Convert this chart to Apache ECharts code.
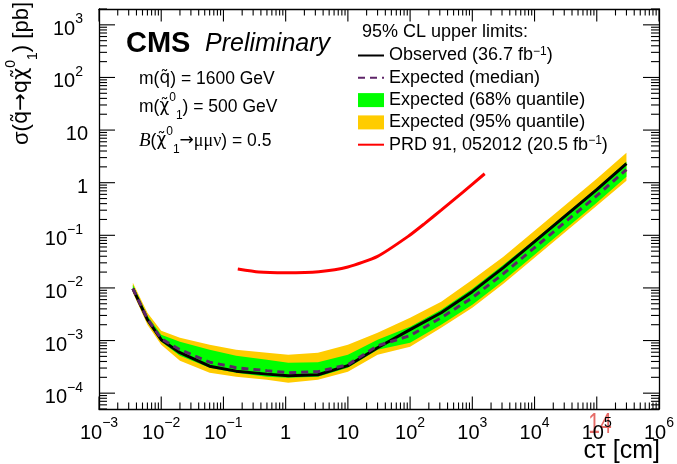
<!DOCTYPE html>
<html><head><meta charset="utf-8">
<script src="https://cdn.jsdelivr.net/npm/echarts@6/dist/echarts.min.js"></script>
<style>html,body{margin:0;padding:0;background:#fff}#c{width:677px;height:464px}</style>
</head><body><div id="c"></div>
<script>
// ---------------- data ----------------
const ctau        = [0.0035, 0.006, 0.01, 0.02, 0.06, 0.16, 0.5, 1.1, 3.3, 10, 30, 100, 316, 1000, 3160, 1e4, 3.16e4, 1e5, 3e5];
const observed    = [0.00968, 0.00249, 0.00104, 0.000587, 0.000326, 0.000262, 0.00023, 0.000215, 0.000224, 0.000333, 0.000731, 0.00161, 0.00338, 0.00849, 0.0243, 0.0757, 0.236, 0.736, 2.30];
const expMedian   = [0.00968, 0.00260, 0.00108, 0.00067, 0.000388, 0.000305, 0.000267, 0.000245, 0.000256, 0.000348, 0.000798, 0.00124, 0.00272, 0.00653, 0.01866, 0.0582, 0.1815, 0.566, 1.77];
const exp68Lo     = [0.00887, 0.00228, 0.00095, 0.000515, 0.000305, 0.000245, 0.000206, 0.000197, 0.000206, 0.000305, 0.00067, 0.00091, 0.00200, 0.00480, 0.01374, 0.0429, 0.1336, 0.417, 1.30];
const exp68Hi     = [0.01153, 0.00296, 0.00129, 0.00095, 0.00067, 0.000515, 0.000433, 0.000379, 0.000388, 0.000538, 0.00104, 0.00183, 0.00386, 0.00968, 0.0277, 0.0826, 0.258, 0.80, 2.51];
const exp95Lo     = [0.00813, 0.00200, 0.000834, 0.000414, 0.000245, 0.000206, 0.00018, 0.000158, 0.00018, 0.000256, 0.000538, 0.000764, 0.00175, 0.00421, 0.01205, 0.0376, 0.1172, 0.366, 1.09];
const exp95Hi     = [0.01259, 0.00338, 0.00154, 0.00113, 0.000834, 0.00067, 0.000587, 0.000538, 0.000587, 0.000834, 0.00141, 0.00272, 0.00548, 0.01435, 0.0393, 0.1225, 0.382, 1.19, 3.72];
const prdCtau     = [0.17, 0.37, 1.0, 3.4, 10, 30, 93, 173, 316, 708, 1580];
const prdLimit    = [0.0229, 0.0201, 0.0195, 0.0204, 0.025, 0.0398, 0.0955, 0.169, 0.301, 0.663, 1.48];

const xMajorTicks = [1e-3, 1e-2, 1e-1, 1, 10, 1e2, 1e3, 1e4, 1e5, 1e6];
const yMajorTicks = [1e-4, 1e-3, 1e-2, 1e-1, 1, 10, 1e2, 1e3];
const yPowerLabels = [1e-4, 1e-3, 1e-2, 1e-1, 1e2, 1e3];
const yPlainLabels = [1, 10];
const X_MIN = 1e-3, X_MAX = 1e6, Y_MIN = 5e-5, Y_MAX = 2e3;

const seriesNames = {
  obs: 'Observed (36.7 fb-1)',
  med: 'Expected (median)',
  b68: 'Expected (68% quantile)',
  b95: 'Expected (95% quantile)',
  prd: 'PRD 91, 052012 (20.5 fb-1)'
};

// ---------------- helpers ----------------
const FONT = 'Liberation Sans, Arial, Helvetica, DejaVu Sans, sans-serif';
const DJ = 'DejaVu Sans, sans-serif';
function pairs(xs, ys) { return xs.map((x, i) => [x, ys[i]]); }
function minorTicks(lo, hi) {
  const out = [];
  for (let e = -6; e <= 6; e++) for (let k = 2; k <= 9; k++) {
    const v = k * Math.pow(10, e);
    if (v >= lo * 0.9999 && v <= hi * 1.0001) out.push(v);
  }
  return out;
}
function powLabel(v) {
  const e = Math.round(Math.log10(v));
  if (e === 0) return '{b|1}';
  if (e === 1) return '{b|10}';
  return '{b|10}{s|' + (e < 0 ? '\u2212' : '') + Math.abs(e) + '}';
}
const labelRich = {
  b: { fontSize: 20, lineHeight: 34, fontFamily: FONT, color: '#000' },
  s: { fontSize: 14, lineHeight: 20, verticalAlign: 'top', fontFamily: FONT, color: '#000' }
};
const AX = { color: '#000', width: 1.3 };

function baseAxis(min, max, extra) {
  return Object.assign({
    type: 'log', logBase: 10, min: min, max: max,
    splitLine: { show: false },
    axisLine: { show: false, onZero: false },
    axisTick: { show: false },
    axisLabel: { show: false }
  }, extra);
}

const xMinor = minorTicks(X_MIN, X_MAX);
const yMinor = minorTicks(Y_MIN, Y_MAX);

const xAxes = [
  baseAxis(X_MIN, X_MAX, {
    position: 'bottom',
    axisLine: { show: true, onZero: false, lineStyle: AX },
    axisLabel: { show: true, customValues: xMajorTicks, formatter: powLabel, margin: 7, rich: labelRich }
  }),
  baseAxis(X_MIN, X_MAX, { position: 'top', axisLine: { show: true, onZero: false, lineStyle: AX } })
];
const yAxes = [
  baseAxis(Y_MIN, Y_MAX, {
    position: 'left',
    axisLine: { show: true, onZero: false, lineStyle: AX },
    axisLabel: { show: true, customValues: yPowerLabels, formatter: powLabel, margin: 16, padding: [9, 0, 0, 0], rich: labelRich }
  }),
  baseAxis(Y_MIN, Y_MAX, { position: 'left',
    axisLabel: { show: true, customValues: yPlainLabels, formatter: powLabel, margin: 11, padding: [9, 0, 0, 0], rich: labelRich } }),
  baseAxis(Y_MIN, Y_MAX, { position: 'right', axisLine: { show: true, onZero: false, lineStyle: AX } })
];

// band polygon through the axes' own scales
function bandSeries(name, lo, hi, color, z) {
  return {
    name: name, type: 'custom', z: z, clip: true,
    itemStyle: { color: color },
    data: ctau.map((x, i) => [x, lo[i], hi[i]]),
    encode: { x: 0, y: [1, 2] },
    renderItem: function (params, api) {
      if (params.dataIndex !== 0) return null;
      const pts = [];
      for (let i = 0; i < ctau.length; i++) pts.push(api.coord([ctau[i], hi[i]]));
      for (let i = ctau.length - 1; i >= 0; i--) pts.push(api.coord([ctau[i], lo[i]]));
      return { type: 'polygon', shape: { points: pts }, style: { fill: color, stroke: null } };
    }
  };
}
// inside ticks on both sides of the frame, placed through the axes' scales
function tickSeries(values, dir, len) {
  return {
    type: 'custom', silent: true, clip: false, z: 10,
    data: values.map(v => dir === 'x' ? [v, Y_MIN] : [X_MIN, v]),
    encode: { x: 0, y: 1 },
    renderItem: function (params, api) {
      const v = api.value(dir === 'x' ? 0 : 1);
      const st = { stroke: '#000', lineWidth: 1.1 };
      if (dir === 'x') {
        const a = api.coord([v, Y_MIN]), b = api.coord([v, Y_MAX]);
        return { type: 'group', children: [
          { type: 'line', shape: { x1: a[0], y1: a[1], x2: a[0], y2: a[1] - len }, style: st },
          { type: 'line', shape: { x1: b[0], y1: b[1], x2: b[0], y2: b[1] + len }, style: st }
        ] };
      } else {
        const a = api.coord([X_MIN, v]), b = api.coord([X_MAX, v]);
        return { type: 'group', children: [
          { type: 'line', shape: { x1: a[0], y1: a[1], x2: a[0] + len, y2: a[1] }, style: st },
          { type: 'line', shape: { x1: b[0], y1: b[1], x2: b[0] - len, y2: b[1] }, style: st }
        ] };
      }
    }
  };
}

const series = [
  bandSeries(seriesNames.b95, exp95Lo, exp95Hi, '#FFCC00', 1),
  bandSeries(seriesNames.b68, exp68Lo, exp68Hi, '#00FF00', 2),
  { name: seriesNames.obs, type: 'line', data: pairs(ctau, observed), symbol: 'none',
    lineStyle: { color: '#000', width: 3 }, itemStyle: { color: '#000' }, z: 3 },
  { name: seriesNames.med, type: 'line', data: pairs(ctau, expMedian), symbol: 'none',
    lineStyle: { color: '#5e2468', width: 3, type: [7, 5] }, itemStyle: { color: '#5e2468' }, z: 4 },
  { name: seriesNames.prd, type: 'line', data: pairs(prdCtau, prdLimit), symbol: 'none', smooth: 0.2,
    lineStyle: { color: '#FF0000', width: 3 }, itemStyle: { color: '#FF0000' }, z: 5 },
  tickSeries(xMajorTicks, 'x', 12.5),
  tickSeries(xMinor, 'x', 6.5),
  tickSeries(yMajorTicks, 'y', 16),
  tickSeries(yMinor, 'y', 8)
];

const richAnn = {
  t: { fontSize: 17.5, lineHeight: 30, fontFamily: FONT, color: '#000' },
  x: { fontSize: 17, lineHeight: 30, fontFamily: DJ, color: '#000' },
  sup: { fontSize: 12, lineHeight: 20, verticalAlign: 'top', fontFamily: FONT, color: '#000' },
  sub: { fontSize: 12, lineHeight: 18, verticalAlign: 'bottom', fontFamily: FONT, color: '#000' },
  bi: { fontSize: 19, lineHeight: 30, fontFamily: 'Liberation Serif, Times New Roman, serif', fontStyle: 'italic', color: '#000' },
  g: { fontSize: 18, lineHeight: 30, fontFamily: 'Liberation Serif, DejaVu Serif, serif', color: '#000' },
  ar: { fontSize: 17, lineHeight: 30, fontFamily: DJ, color: '#000' }
};
const richTitle = {
  t: { fontSize: 22, lineHeight: 36, fontFamily: FONT, color: '#000' },
  x: { fontSize: 21, lineHeight: 36, fontFamily: DJ, color: '#000' },
  sup: { fontSize: 14, lineHeight: 24, verticalAlign: 'top', fontFamily: FONT, color: '#000' },
  sub: { fontSize: 14, lineHeight: 22, verticalAlign: 'bottom', fontFamily: FONT, color: '#000' }
};

const hiddenSymbol = { color: 'rgba(0,0,0,0)', borderWidth: 0, opacity: 0 };

const option = {
  animation: false,
  backgroundColor: '#fff',
  grid: { left: 99, right: 15, top: 9, bottom: 55, containLabel: false },
  xAxis: xAxes,
  yAxis: yAxes,
  legend: {
    orient: 'vertical', left: 357, top: 45.5, padding: 0,
    itemWidth: 26, itemHeight: 14, itemGap: 2.3, selectedMode: false,
    data: [
      { name: seriesNames.obs, itemStyle: hiddenSymbol },
      { name: seriesNames.med, itemStyle: hiddenSymbol },
      { name: seriesNames.b68, icon: 'rect' },
      { name: seriesNames.b95, icon: 'rect' },
      { name: seriesNames.prd, itemStyle: hiddenSymbol }
    ],
    formatter: function (n) { return n.replace('fb-1', 'fb{s|\u22121}'); },
    textStyle: { fontFamily: FONT, fontSize: 18, color: '#000', lineHeight: 20,
      rich: { s: { fontSize: 12, lineHeight: 10, verticalAlign: 'top', fontFamily: FONT, color: '#000' } } }
  },
  graphic: [
    { type: 'text', x: 600, y: 425, z: -1, scaleY: 1.4,
      style: { text: '14', fontSize: 21, fontFamily: FONT, fill: 'rgba(225,80,75,0.85)', align: 'center', verticalAlign: 'middle' } },
    { type: 'text', x: 126, y: 44,
      style: { text: 'CMS', fontSize: 29, fontWeight: 'bold', fontFamily: FONT, fill: '#000', align: 'left', verticalAlign: 'middle' } },
    { type: 'text', x: 205, y: 44,
      style: { text: 'Preliminary', fontSize: 25, fontStyle: 'italic', fontFamily: FONT, fill: '#000', align: 'left', verticalAlign: 'middle' } },
    { type: 'text', x: 139, y: 79,
      style: { text: '{t|m(}{x|q\u0303}{t|) = 1600 GeV}', rich: richAnn, align: 'left', verticalAlign: 'middle' } },
    { type: 'text', x: 139, y: 107,
      style: { text: '{t|m(}{x|\u03C7\u0303}{sup|0}{sub|1}{t|) = 500 GeV}', rich: richAnn, align: 'left', verticalAlign: 'middle' } },
    { type: 'text', x: 139, y: 141,
      style: { text: '{bi|B}{t|(}{x|\u03C7\u0303}{sup|0}{sub|1}{ar|\u2192}{g|\u03BC\u03BC\u03BD}{t|) = 0.5}', rich: richAnn, align: 'left', verticalAlign: 'middle' } },
    { type: 'text', x: 362, y: 32.5,
      style: { text: '95% CL upper limits:', fontSize: 18, fontFamily: FONT, fill: '#000', align: 'left', verticalAlign: 'middle' } },
    { type: 'text', x: 22, y: 2, rotation: Math.PI / 2,
      style: { text: '{t|\u03C3(}{x|q\u0303\u2192q\u03C7\u0303}{sup|0}{sub|1}{t|) [pb]}', rich: richTitle, align: 'right', verticalAlign: 'middle' } },
    { type: 'text', x: 660, y: 451,
      style: { text: 'c\u03C4 [cm]', fontSize: 25, fontFamily: FONT, fill: '#000', align: 'right', verticalAlign: 'middle' } }
  ],
  series: series
};

const chart = echarts.init(document.getElementById('c'), null, { renderer: 'canvas' });
chart.setOption(option);
</script>
</body></html>
